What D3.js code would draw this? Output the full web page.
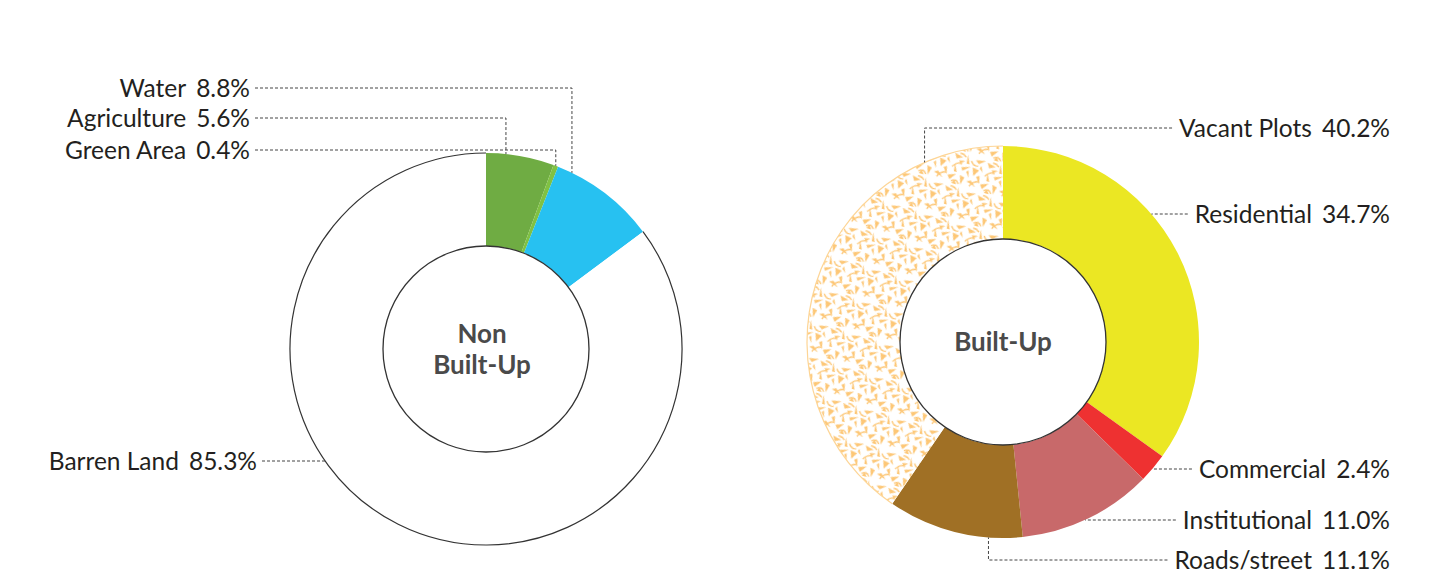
<!DOCTYPE html>
<html>
<head>
<meta charset="utf-8">
<script src="https://cdn.jsdelivr.net/npm/d3@7"></script>
<style>
  html, body { margin: 0; padding: 0; background: #fff; }
  svg { display: block; font-family: Lato, "Open Sans", sans-serif; }
</style>
</head>
<body>
<svg id="chart" width="1430" height="585"></svg>
<script>
// non built-up
const leftNames = ['Agriculture', 'Green Area', 'Water', 'Barren Land'];
const leftValues = [5.6, 0.4, 8.8, 85.3];
const leftColors = ['#6fac43', '#80c143', '#27c1f1', '#ffffff'];

// built-up
const rightNames = ['Residential', 'Commercial', 'Institutional', 'Roads/street', 'Vacant Plots'];
const rightValues = [34.7, 2.4, 11.0, 11.1, 40.2];
const rightColors = ['#ebe723', '#ee3131', '#c8696a', '#a07025', 'url(#vacant)'];

const svg = d3.select('#chart');
const outerR = 196;
const innerR = 103;
const textColor = '#231f20';
const fontSize = 24.5;

// label placement: y of label, where the leader meets the slice
const leftLayout = [
  { y: 118, edge: 250, mode: 'elbow', frac: 0.29 },
  { y: 150, edge: 250, mode: 'elbow', frac: 0.5 },
  { y: 88, edge: 250, mode: 'elbow', frac: 0.14 },
  { y: 461, edge: 257, mode: 'flat' }
];
const rightLayout = [
  { y: 214, edge: 1390, mode: 'flat' },
  { y: 469, edge: 1390, mode: 'flat' },
  { y: 520, edge: 1390, mode: 'flat' },
  { y: 560, edge: 1390, mode: 'elbow', frac: 0.25 },
  { y: 128, edge: 1390, mode: 'elbow', frac: 0.838 }
];

const defs = svg.append('defs');
const pat = defs.append('pattern')
  .attr('id', 'vacant')
  .attr('patternUnits', 'userSpaceOnUse')
  .attr('width', 34)
  .attr('height', 34)
  .attr('patternTransform', 'rotate(17)');
pat.append('rect').attr('width', 34).attr('height', 34).attr('fill', '#fff');
[
  'M1,3 L10,5 L4,8Z', 'M14,1 L18,10 L15,10Z', 'M23,4 L33,2 L27,7Z',
  'M4,13 L8,21 L5,21Z', 'M11,15 L20,12 L13,18Z', 'M22,12 L25,20 L29,13Z',
  'M0,26 L8,23 L3,30Z', 'M12,23 L15,32 L17,24Z', 'M20,27 L30,30 L24,25Z',
  'M28,20 L33,26 L31,18Z', 'M7,9 L13,8 L9,12Z', 'M17,18 L21,23 L19,16Z',
  'M30,8 L33,14 L29,11Z', 'M8,29 L11,33 L6,33Z'
].forEach(d => pat.append('path').attr('d', d).attr('fill', '#fdc776'));
pat.append('path')
  .attr('d', 'M2,17 Q6,10 11,12 M19,6 Q22,11 27,9 M5,31 Q10,27 13,32 M24,31 Q26,25 32,24 M13,4 Q9,1 6,2')
  .attr('fill', 'none').attr('stroke', '#fdc776').attr('stroke-width', 1.3);

const pie = d3.pie().sort(null).value(d => d);
const arc = d3.arc().innerRadius(innerR).outerRadius(outerR);
const rim = d3.arc().innerRadius(outerR).outerRadius(outerR);

function drawDonut (cx, cy, names, values, colors, layout, title, side, opts) {
  const g = svg.append('g').attr('transform', `translate(${cx},${cy})`);
  const arcs = pie(values);

  g.selectAll('path.slice')
    .data(arcs)
    .join('path')
    .attr('class', 'slice')
    .attr('d', arc)
    .attr('fill', (d, i) => colors[i])
    .attr('stroke', 'none');

  // outline only on the outer edge of a few slices
  g.selectAll('path.rim')
    .data(arcs.filter((d, i) => opts.rims[i]))
    .join('path')
    .attr('class', 'rim')
    .attr('d', rim)
    .attr('fill', 'none')
    .attr('stroke', d => opts.rims[d.index])
    .attr('stroke-width', 1.2);

  g.append('circle')
    .attr('r', innerR)
    .attr('fill', '#fff')
    .attr('stroke', '#333')
    .attr('stroke-width', 1.3);

  title.forEach((t, i) => {
    g.append('text')
      .attr('x', opts.titleDx)
      .attr('y', (i - (title.length - 1) / 2) * 31)
      .attr('dy', '0.36em')
      .attr('text-anchor', 'middle')
      .attr('font-size', 26)
      .attr('font-weight', 700)
      .attr('fill', '#4a4a4a')
      .text(t);
  });

  // labels and leaders
  arcs.forEach((d, i) => {
    const L = layout[i];
    const t = svg.append('text')
      .attr('x', L.edge)
      .attr('y', L.y)
      .attr('dy', '0.35em')
      .attr('text-anchor', 'end')
      .attr('font-size', fontSize)
      .attr('fill', textColor);
    t.append('tspan').text(names[i]);
    t.append('tspan').attr('dx', 10).text(d3.format('.1f')(values[i]) + '%');
    const w = t.node().getComputedTextLength() + 10;

    const sx = side === 'left' ? L.edge + 5 : L.edge - w - 7;
    let ax, ay;
    if (L.mode === 'flat') {
      const dy = L.y - cy;
      ax = cx + (side === 'left' ? -1 : 1) * Math.sqrt(outerR * outerR - dy * dy);
      ay = L.y;
    } else {
      const a = d.startAngle + (d.endAngle - d.startAngle) * L.frac;
      ax = cx + outerR * Math.sin(a);
      ay = cy - outerR * Math.cos(a);
    }
    svg.append('path')
      .attr('d', `M${sx},${L.y} H${ax} V${ay}`)
      .attr('fill', 'none')
      .attr('stroke', '#444')
      .attr('stroke-width', 1)
      .attr('stroke-dasharray', '3,2');
  });
}

drawDonut(486, 349, leftNames, leftValues, leftColors, leftLayout,
  ['Non', 'Built-Up'], 'left',
  { rims: [null, null, null, '#333'], titleDx: -4 });

drawDonut(1003, 342, rightNames, rightValues, rightColors, rightLayout,
  ['Built-Up'], 'right',
  { rims: [null, null, null, null, '#fdd596'], titleDx: 0 });
</script>
</body>
</html>
